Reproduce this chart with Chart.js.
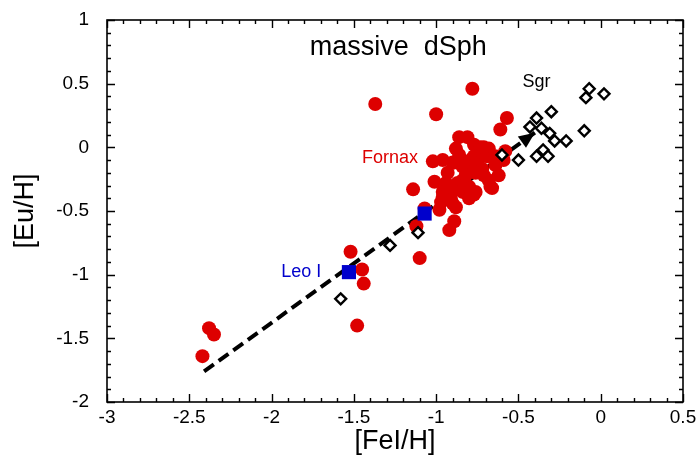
<!DOCTYPE html>
<html>
<head>
<meta charset="utf-8">
<script src="https://cdn.jsdelivr.net/npm/chart.js@4/dist/chart.umd.min.js"></script>
<style>
  html, body { margin: 0; padding: 0; background: #ffffff; }
  #wrap { width: 697px; height: 458px; }
</style>
</head>
<body>
<div id="wrap"><canvas id="c" width="697" height="458"></canvas></div>
<script>
// ---- data ----
const xTickValues = [-3, -2.5, -2, -1.5, -1, -0.5, 0, 0.5];
const xTickLabels = ["-3", "-2.5", "-2", "-1.5", "-1", "-0.5", "0", "0.5"];
const yTickValues = [-2, -1.5, -1, -0.5, 0, 0.5, 1];
const yTickLabels = ["-2", "-1.5", "-1", "-0.5", "0", "0.5", "1"];

// Fornax (red filled circles)
const fornaxFe = [-0.78,-1.37,-1.00,-0.57,-0.61,-0.86,-0.81,-0.88,-0.77,-0.73,-0.68,-0.77,-0.69,-0.74,-0.64,-0.58,-1.02,-0.96,-0.89,-0.79,-0.82,-0.76,-0.72,-0.64,-0.84,-0.62,-0.68,-0.66,-0.76,-0.84,-1.01,-0.94,-0.87,-1.14,-0.96,-0.90,-0.84,-0.80,-0.76,-0.77,-0.80,-0.97,-0.91,-0.98,-0.88,-1.07,-0.89,-0.92,-1.12,-1.10,-1.52,-1.45,-1.44,-1.48,-2.38,-2.35,-2.42,-0.90,-0.78,-0.96,-0.90,-0.67,-0.71,-0.82,-0.71,-0.93,-0.86,-0.59];
const fornaxEu = [0.46,0.34,0.26,0.23,0.14,0.08,0.08,-0.01,0.02,0.00,-0.01,-0.07,-0.07,-0.09,-0.07,-0.03,-0.11,-0.10,-0.12,-0.10,-0.15,-0.13,-0.17,-0.14,-0.15,-0.22,-0.26,-0.32,-0.20,-0.26,-0.27,-0.28,-0.28,-0.33,-0.35,-0.34,-0.35,-0.31,-0.35,-0.37,-0.40,-0.43,-0.41,-0.49,-0.47,-0.48,-0.58,-0.65,-0.62,-0.87,-0.82,-0.96,-1.07,-1.40,-1.42,-1.47,-1.64,-0.12,-0.36,-0.39,-0.44,-0.31,0.00,-0.22,-0.22,-0.20,-0.06,-0.10];

// Sgr (open diamonds)
const sgrFe = [-0.07,0.02,-0.09,-0.30,-0.39,-0.43,-0.36,-0.31,-0.10,-0.28,-0.21,-0.35,-0.39,-0.32,-0.50,-0.60,-1.11,-1.28,-1.58];
const sgrEu = [0.46,0.42,0.39,0.28,0.23,0.16,0.15,0.11,0.13,0.05,0.05,-0.02,-0.07,-0.07,-0.10,-0.06,-0.67,-0.77,-1.19];

// Leo I (blue squares)
const leoFe = [-1.53, -1.07];
const leoEu = [-0.98, -0.52];

// trend arrow (dashed)
const trendFe = [-2.41, -0.40];
const trendEu = [-1.76, 0.115];

// text annotations (data coordinates)
const noteText  = ["massive  dSph", "Sgr", "Fornax", "Leo I"];
const noteFe    = [-1.23, -0.39, -1.28, -1.82];
const noteEu    = [0.78, 0.51, -0.085, -0.98];
const noteColor = ["#000000", "#000000", "#dd0000", "#0000cc"];
const noteSize  = [27, 18, 18, 18];

// ---- build ----
const zip = (xs, ys) => xs.map((x, i) => ({ x: x, y: ys[i] }));
const FONT = "'Liberation Sans', Arial, Helvetica, sans-serif";
const X_MIN = -3, X_MAX = 0.5, Y_MIN = -2, Y_MAX = 1;

const framePlugin = {
  id: 'frameTicks',
  afterDraw(chart) {
    const ctx = chart.ctx;
    const a = chart.chartArea;
    const xs = chart.scales.x, ys = chart.scales.y;
    ctx.save();
    // arrow head at end of trend line
    const p0x = xs.getPixelForValue(trendFe[0]), p0y = ys.getPixelForValue(trendEu[0]);
    const p1x = xs.getPixelForValue(trendFe[1]), p1y = ys.getPixelForValue(trendEu[1]);
    const ang = Math.atan2(p1y - p0y, p1x - p0x);
    const L = 16, W = 7;
    ctx.fillStyle = '#000';
    ctx.beginPath();
    ctx.moveTo(p1x, p1y);
    ctx.lineTo(p1x - L * Math.cos(ang) + W * Math.sin(ang), p1y - L * Math.sin(ang) - W * Math.cos(ang));
    ctx.lineTo(p1x - L * Math.cos(ang) - W * Math.sin(ang), p1y - L * Math.sin(ang) + W * Math.cos(ang));
    ctx.closePath();
    ctx.fill();

    // frame
    ctx.strokeStyle = '#000';
    ctx.lineWidth = 1.6;
    ctx.strokeRect(a.left, a.top, a.right - a.left, a.bottom - a.top);
    // ticks inward, all four sides
    ctx.lineWidth = 1.4;
    ctx.beginPath();
    for (let k = 0; k <= Math.round((X_MAX - X_MIN) / 0.1); k++) {
      const v = X_MIN + k * 0.1;
      const px = Math.round(xs.getPixelForValue(v)) + 0.5;
      const len = (k % 5 === 0) ? 8 : 4;
      ctx.moveTo(px, a.bottom); ctx.lineTo(px, a.bottom - len);
      ctx.moveTo(px, a.top); ctx.lineTo(px, a.top + len);
    }
    for (let k = 0; k <= Math.round((Y_MAX - Y_MIN) / 0.1); k++) {
      const v = Y_MIN + k * 0.1;
      const py = Math.round(ys.getPixelForValue(v)) + 0.5;
      const len = (k % 5 === 0) ? 8 : 4;
      ctx.moveTo(a.left, py); ctx.lineTo(a.left + len, py);
      ctx.moveTo(a.right, py); ctx.lineTo(a.right - len, py);
    }
    ctx.stroke();

    // tick labels
    ctx.fillStyle = '#000';
    ctx.font = '19px ' + FONT;
    ctx.textBaseline = 'middle';
    ctx.textAlign = 'center';
    xTickValues.forEach((v, i) => ctx.fillText(xTickLabels[i], xs.getPixelForValue(v), a.bottom + 16));
    ctx.textAlign = 'right';
    yTickValues.forEach((v, i) => ctx.fillText(yTickLabels[i], a.left - 18, ys.getPixelForValue(v)));

    // annotations
    ctx.textAlign = 'center';
    ctx.textBaseline = 'middle';
    for (let i = 0; i < noteText.length; i++) {
      ctx.font = noteSize[i] + 'px ' + FONT;
      ctx.fillStyle = noteColor[i];
      ctx.fillText(noteText[i], xs.getPixelForValue(noteFe[i]), ys.getPixelForValue(noteEu[i]));
    }
    ctx.restore();
  }
};

new Chart(document.getElementById('c'), {
  type: 'scatter',
  data: {
    datasets: [
      { label: 'Leo I', data: zip(leoFe, leoEu), pointStyle: 'rect', pointRadius: 10,
        backgroundColor: '#0000cc', borderWidth: 0 },
      { label: 'Sgr', data: zip(sgrFe, sgrEu), pointStyle: 'rectRot', pointRadius: 5.5,
        backgroundColor: '#ffffff', borderColor: '#000000', borderWidth: 2.4 },
      { label: 'Fornax', data: zip(fornaxFe, fornaxEu), pointStyle: 'circle', pointRadius: 7,
        backgroundColor: '#dd0000', borderWidth: 0 },
      { label: 'trend', data: zip(trendFe, trendEu), showLine: true, pointRadius: 0,
        borderColor: '#000000', borderWidth: 4, borderDash: [12, 6], fill: false }
    ]
  },
  options: {
    responsive: false,
    devicePixelRatio: 1,
    animation: false,
    events: [],
    layout: { padding: { top: 20, right: 14, left: 0, bottom: 0 } },
    plugins: { legend: { display: false }, tooltip: { enabled: false }, title: { display: false } },
    scales: {
      x: {
        type: 'linear', min: X_MIN, max: X_MAX,
        grid: { display: false, drawTicks: false },
        border: { display: false },
        ticks: { display: false, stepSize: 0.5 },
        title: { display: true, text: '[FeI/H]', color: '#000', font: { family: FONT, size: 27 },
          padding: { top: 0, bottom: 0 } },
        afterFit: (s) => { s.height = 56; }
      },
      y: {
        type: 'linear', min: Y_MIN, max: Y_MAX,
        grid: { display: false, drawTicks: false },
        border: { display: false },
        ticks: { display: false, stepSize: 0.5 },
        title: { display: true, text: '[Eu/H]', color: '#000', font: { family: FONT, size: 27 },
          padding: { top: 9, bottom: 0 } },
        afterFit: (s) => { s.width = 107; }
      }
    }
  },
  plugins: [framePlugin]
});
</script>
</body>
</html>
